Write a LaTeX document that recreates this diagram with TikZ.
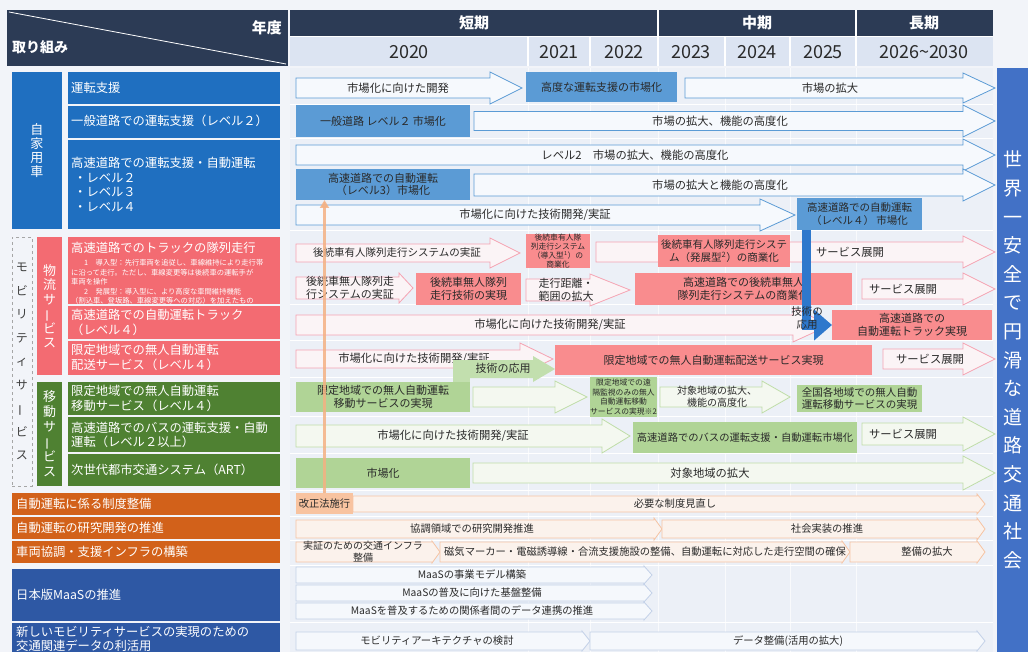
\documentclass[tikz,border=0pt]{standalone}
\usepackage{fontspec}
\usepackage{graphicx}
\setmainfont{Noto Sans CJK JP}
\usetikzlibrary{arrows.meta}
\definecolor{navy}{HTML}{2C3B55}
\definecolor{yearbg}{HTML}{DCE4F2}
\definecolor{cblue}{HTML}{1F6FC0}
\definecolor{mblue}{HTML}{5B9BD5}
\definecolor{lblue}{HTML}{F6F9FD}
\definecolor{cpink}{HTML}{F36B72}
\definecolor{mpink}{HTML}{F98C8E}
\definecolor{bpink}{HTML}{F5A3B2}
\definecolor{lpink}{HTML}{FBF4F6}
\definecolor{cgreen}{HTML}{4F8132}
\definecolor{mgreen}{HTML}{B0D496}
\definecolor{ggreen}{HTML}{C2DFAE}
\definecolor{bgreen}{HTML}{BFDDA8}
\definecolor{lgreen}{HTML}{F4F8F0}
\definecolor{corange}{HTML}{D2611A}
\definecolor{lorange}{HTML}{F8C3A0}
\definecolor{borange}{HTML}{F6C4A4}
\definecolor{lorange2}{HTML}{FBF2EC}
\definecolor{orline}{HTML}{F4B183}
\definecolor{cmaas}{HTML}{2E58A4}
\definecolor{bmaas}{HTML}{C3D1E8}
\definecolor{lmaas}{HTML}{F5F8FC}
\definecolor{rbar}{HTML}{4271C6}
\definecolor{canvas}{HTML}{F2F4F9}
\definecolor{content}{HTML}{ECF0F7}
\definecolor{txt}{HTML}{2A2A2A}
\definecolor{thick}{HTML}{2E78CC}
\newcommand\fsz[2]{\fontsize{#1}{#2}\selectfont}
\newcommand\vbar{\rotatebox[origin=c]{90}{ー}}
\newcommand\barr[7]{\path[#1] (#2,{#4-#5}) -- ({#3-#7},{#4-#5}) -- ({#3-#7},{#4-#6}) -- (#3,#4) -- ({#3-#7},{#4+#6}) -- ({#3-#7},{#4+#5}) -- (#2,{#4+#5}) -- cycle;}
\begin{document}
\begin{tikzpicture}[x=1pt,y=-1pt,
  ctext/.style={font=\fsz{11.3}{13.5}, text=txt, inner sep=0pt, align=center},
  mtext/.style={font=\fsz{10.3}{12.5}, text=txt, inner sep=0pt, align=center},
  ltext/.style={font=\fsz{12.3}{14.5}, text=white, inner sep=0pt, anchor=west},
  nstext/.style={font=\fsz{7.3}{9}, text=white, inner sep=0pt, anchor=west},
  vtext/.style={font=\fsz{13}{13.8}, text=white, inner sep=0pt, align=center},
  hdr/.style={font=\bfseries\fsz{15}{17}, text=white, inner sep=0pt},
  yr/.style={font=\fsz{18}{20}, text=txt, inner sep=0pt},
  filledbox/.style={draw=none, inner sep=0pt, outer sep=0pt, align=center, text=txt, font=\fsz{11}{13}},
  barw/.style={draw=mblue, fill=lblue, line width=0.8pt},
  parw/.style={draw=bpink, fill=lpink, line width=0.8pt},
  garw/.style={draw=bgreen, fill=lgreen, line width=0.8pt},
  oarw/.style={draw=borange, fill=lorange2, line width=0.8pt},
  marw/.style={draw=bmaas, fill=lmaas, line width=0.8pt},
  sepline/.style={draw=white, line width=1pt}]
\useasboundingbox (0,0) rectangle (1028,652);
\fill[canvas] (0,0) rectangle (1028,652);
% ---------- header ----------
\fill[navy] (7,10) rectangle (288,66);
\draw[white, line width=0.8pt] (9,12) -- (286,64);
\node[hdr, anchor=east] (nendo) at (282,28) {年度};
\node[hdr, anchor=west, font=\bfseries\fsz{14}{16}] (torikumi) at (12,47) {取り組み};
\fill[navy] (290,10) rectangle (993,37);
\fill[yearbg] (290,37) rectangle (993,66);
\foreach \xx in {658,856} \draw[white, line width=1.2pt] (\xx,10) -- (\xx,37);
\foreach \xx in {528,590,658,725,790,856} \draw[white, line width=1.2pt] (\xx,37) -- (\xx,66);
\draw[white, line width=1pt] (290,37) -- (993,37);
\node[hdr] (tanki) at (474,23) {短期};
\node[hdr] (chuki) at (757,23) {中期};
\node[hdr] (choki) at (924,23) {長期};
\node[yr] (y20) at (409,52) {2020};
\node[yr] (y21) at (559,52) {2021};
\node[yr] (y22) at (624,52) {2022};
\node[yr] (y23) at (691,52) {2023};
\node[yr] (y24) at (757,52) {2024};
\node[yr] (y25) at (823,52) {2025};
\node[yr] (y26) at (924,52) {2026\textasciitilde 2030};
% ---------- content background ----------
\fill[content] (290,68) rectangle (993,652);
\foreach \yy in {104.5,138.5,231,305,340,377,416,453.5,490,516,540,565,622}
  \draw[sepline] (290,\yy) -- (993,\yy);
\foreach \xx in {528,590,658,725,790,856}
  \draw[white, line width=0.6pt, opacity=0.7] (\xx,68) -- (\xx,652);
% ---------- right bar ----------
\fill[rbar] (997,68) rectangle (1028,652);
\node[font=\fsz{19}{28.6}, text=white, align=center, inner sep=0pt] (goal) at (1013,360)
  {世\\界\\一\\安\\全\\で\\円\\滑\\な\\道\\路\\交\\通\\社\\会};
% ---------- left column ----------
\node[fill=cblue, minimum width=50pt, minimum height=157pt, inner sep=0pt, vtext] (jika) at (37,150.5) {自\\家\\用\\車};
\fill[cblue] (68,72) rectangle (280,104);
\fill[cblue] (68,106) rectangle (280,138);
\fill[cblue] (68,140) rectangle (280,229);
\node[ltext] (l1) at (71,88) {運転支援};
\node[ltext] (l2) at (71,121) {一般道路での運転支援（レベル２）};
\node[ltext] (l3a) at (71,163) {高速道路での運転支援・自動運転};
\node[ltext] (l3b) at (74,178) {・レベル２};
\node[ltext] (l3c) at (74,192.5) {・レベル３};
\node[ltext] (l3d) at (74,207) {・レベル４};
% mobility
\node[draw=gray!70, dashed, fill=canvas, minimum width=20pt, minimum height=249pt, inner sep=0pt,
  font=\fsz{12}{23.5}, text=black!75, align=center] (mob) at (22,361.5)
  {モ\\ビ\\リ\\テ\\ィ\\サ\\\vbar\\ビ\\ス};
\node[fill=cpink, minimum width=25pt, minimum height=138pt, inner sep=0pt, vtext, font=\fsz{13}{14.5}] (butsu) at (49.5,306) {物\\流\\サ\\\vbar\\ビ\\ス};
\fill[cpink] (68,237) rectangle (280,304);
\fill[cpink] (68,306) rectangle (280,339);
\fill[cpink] (68,341) rectangle (280,375);
\node[ltext] (l4) at (71,248) {高速道路でのトラックの隊列走行};
\node[nstext] (n1) at (84,263) {1\quad 導入型：先行車両を追従し、車線維持により走行帯};
\node[nstext] (n2) at (71,273) {に沿って走行。ただし、車線変更等は後続車の運転手が};
\node[nstext] (n3) at (71,282) {車両を操作};
\node[nstext] (n4) at (84,292) {2\quad 発展型：導入型に、より高度な車間維持機能};
\node[nstext] (n5) at (71,301) {（割込車、登坂路、車線変更等への対応）を加えたもの};
\node[ltext] (l5a) at (71,315) {高速道路での自動運転トラック};
\node[ltext] (l5b) at (71,330) {（レベル４）};
\node[ltext] (l6a) at (71,350) {限定地域での無人自動運転};
\node[ltext] (l6b) at (71,365) {配送サービス（レベル４）};
\node[fill=cgreen, minimum width=25pt, minimum height=104pt, inner sep=0pt, vtext, font=\fsz{13}{15}] (ido) at (49.5,434) {移\\動\\サ\\\vbar\\ビ\\ス};
\fill[cgreen] (68,382) rectangle (280,415);
\fill[cgreen] (68,417) rectangle (280,452);
\fill[cgreen] (68,454) rectangle (280,486);
\node[ltext] (l7a) at (71,391) {限定地域での無人自動運転};
\node[ltext] (l7b) at (71,406) {移動サービス（レベル４）};
\node[ltext] (l8a) at (71,428) {高速道路でのバスの運転支援・自動};
\node[ltext] (l8b) at (71,442) {運転（レベル２以上）};
\node[ltext] (l9) at (71,470) {次世代都市交通システム（ART）};
% other rows
\fill[corange] (12,493) rectangle (280,515);
\fill[corange] (12,517) rectangle (280,539);
\fill[corange] (12,541) rectangle (280,563);
\fill[cmaas] (12,569) rectangle (280,621);
\fill[cmaas] (12,623) rectangle (280,652);
\node[ltext] (l10) at (16,504) {自動運転に係る制度整備};
\node[ltext] (l11) at (16,528) {自動運転の研究開発の推進};
\node[ltext] (l12) at (16,552) {車両協調・支援インフラの構築};
\node[ltext] (l13) at (16,595) {日本版MaaSの推進};
\node[ltext] (l14a) at (16,632) {新しいモビリティサービスの実現のための};
\node[ltext] (l14b) at (16,646) {交通関連データの利活用};
% ---------- 自家用車 rows ----------
\barr{barw}{296}{522}{88}{10}{16}{32}
\node[ctext] (ta1) at (398,88) {市場化に向けた開発};
\node[filledbox, fill=mblue, minimum width=151pt, minimum height=30pt] (b1) at (601.5,87) {高度な運転支援の市場化};
\barr{barw}{685}{995}{88}{10}{15}{32}
\node[ctext] (ta2) at (830,88) {市場の拡大};
\node[filledbox, fill=mblue, minimum width=174pt, minimum height=32pt] (b2) at (383,121) {一般道路 レベル２ 市場化};
\barr{barw}{474}{995}{121}{9.5}{16}{32}
\node[ctext] (ta3) at (720,121) {市場の拡大、機能の高度化};
\barr{barw}{296}{995}{155}{10}{16}{32}
\node[ctext] (ta4) at (635,155) {レベル2\quad 市場の拡大、機能の高度化};
\node[filledbox, fill=mblue, minimum width=174pt, minimum height=31pt, font=\fsz{11}{12.5}] (b3) at (383,184.5) {高速道路での自動運転\\（レベル3）市場化};
\barr{barw}{474}{995}{185}{11}{16}{32}
\node[ctext] (ta5) at (720,185) {市場の拡大と機能の高度化};
\barr{barw}{296}{795}{215}{10}{16}{35}
\node[ctext] (ta6) at (535,215) {市場化に向けた技術開発/実証};
\node[filledbox, fill=mblue, minimum width=125pt, minimum height=32pt, font=\fsz{10.5}{13}] (b4) at (859.5,214) {高速道路での自動運転\\（レベル４） 市場化};
% ---------- 物流 rows ----------
\barr{parw}{296}{520}{253}{9}{15}{30}
\node[ctext, font=\fsz{10.5}{12}] (tp1) at (397,253) {後続車有人隊列走行システムの実証};
\node[filledbox, fill=mpink, minimum width=64pt, minimum height=34pt, font=\fsz{7.8}{8.7}] (pb1) at (558,251) {後続車有人隊\\列走行システム\\（導入型\textsuperscript{1}）の\\商業化};
\barr{parw}{596}{995}{252}{10}{16}{32}
\node[filledbox, fill=mpink, minimum width=132pt, minimum height=32pt, font=\fsz{10.5}{12.5}] (pb2) at (724,251) {後続車有人隊列走行システ\\ム（発展型\textsuperscript{2}）の商業化};
\node[ctext] (tp2) at (850,252) {サービス展開};
\barr{parw}{296}{413}{288}{11}{15}{14}
\node[ctext, font=\fsz{11}{12.5}] (tp3) at (350,288) {後続車無人隊列走\\行システムの実証};
\node[filledbox, fill=mpink, minimum width=105pt, minimum height=32pt, font=\fsz{11}{12.5}] (pb3) at (468.5,289) {後続車無人隊列\\走行技術の実現};
\barr{parw}{526}{630}{290}{11}{16}{40}
\node[ctext, font=\fsz{11}{12.5}] (tp4) at (566,290) {走行距離・\\範囲の拡大};
\node[filledbox, fill=mpink, minimum width=217pt, minimum height=32pt, font=\fsz{11}{12.5}] (pb4) at (743.5,289) {高速道路での後続車無人\\隊列走行システムの商業化};
\barr{parw}{862}{995}{289}{10}{16}{32}
\node[ctext] (tp5) at (903,289) {サービス展開};
\barr{parw}{296}{830}{325}{10}{17}{37}
\node[ctext] (tp6) at (550,325) {市場化に向けた技術開発/実証};
\node[filledbox, fill=mpink, minimum width=160pt, minimum height=30pt, font=\fsz{11}{12.5}] (pb5) at (912,325) {高速道路での\\自動運転トラック実現};
\barr{parw}{296}{553}{359}{9}{16}{33}
\node[ctext] (tp7) at (414,359) {市場化に向けた技術開発/実証};
\node[filledbox, fill=mpink, minimum width=317pt, minimum height=30pt] (pb6) at (713.5,360) {限定地域での無人自動運転配送サービス実現};
\barr{parw}{883}{995}{359}{10}{16}{32}
\node[ctext] (tp8) at (930,359) {サービス展開};
% ---------- 移動 rows ----------
\fill[ggreen] (453,365) rectangle (470,382);
\barr{draw=none, fill=ggreen}{453}{555}{369}{9}{13}{22}
\node[ctext, font=\fsz{11}{12}] (tg0) at (503,368) {技術の応用};
\node[filledbox, fill=mgreen, minimum width=174pt, minimum height=30pt, font=\fsz{11}{12.5}] (gb1) at (383,397) {限定地域での無人自動運転\\移動サービスの実現};
\barr{garw}{473}{587}{397}{10}{16}{32}
\node[filledbox, fill=mgreen, minimum width=67pt, minimum height=40pt, font=\fsz{7.8}{9.4}] (gb2) at (623.5,397) {限定地域での遠\\隔監視のみの無人\\自動運転移動\\サービスの実現※2};
\barr{garw}{660}{790}{397}{10}{16}{28}
\node[ctext, font=\fsz{10}{12}] (tg2) at (717,397) {対象地域の拡大、\\機能の高度化};
\node[filledbox, fill=mgreen, minimum width=125pt, minimum height=27pt, font=\fsz{10.5}{12}] (gb3) at (859.5,398.5) {全国各地域での無人自動\\運転移動サービスの実現};
\barr{garw}{296}{630}{436}{11}{17}{28}
\node[ctext] (tg3) at (453,436) {市場化に向けた技術開発/実証};
\node[filledbox, fill=mgreen, minimum width=224pt, minimum height=31pt, font=\fsz{10.3}{12}] (gb4) at (745,437.5) {高速道路でのバスの運転支援・自動運転市場化};
\barr{garw}{862}{995}{434}{11}{17}{32}
\node[ctext] (tg4) at (903,434) {サービス展開};
\node[filledbox, fill=mgreen, minimum width=174pt, minimum height=30pt] (gb5) at (383,473) {市場化};
\barr{garw}{473}{995}{473}{10}{17}{32}
\node[ctext] (tg5) at (710,473) {対象地域の拡大};
% ---------- 制度・研究・インフラ ----------
\node[filledbox, fill=lorange, minimum width=57pt, minimum height=21pt, font=\fsz{10.3}{12}] (ob1) at (324.5,503.5) {改正法施行};
\barr{oarw}{353}{985}{504}{8}{10}{8}
\node[mtext] (to1) at (675,504) {必要な制度見直し};
\barr{oarw}{296}{662}{529}{9}{11}{8}
\node[mtext] (to2) at (472,529) {協調領域での研究開発推進};
\barr{oarw}{662}{985}{529}{9}{11}{8}
\node[mtext] (to3) at (827,529) {社会実装の推進};
\barr{oarw}{296}{440}{552}{10}{11}{8}
\node[mtext, font=\fsz{10}{12}] (to4) at (363,552) {実証のための交通インフラ\\整備};
\barr{oarw}{440}{850}{552}{10}{11}{8}
\node[mtext] (to5) at (645,552) {磁気マーカー・電磁誘導線・合流支援施設の整備、自動運転に対応した走行空間の確保};
\barr{oarw}{850}{985}{552}{10}{11}{8}
\node[mtext] (to6) at (927,552) {整備の拡大};
% ---------- MaaS / data ----------
\barr{marw}{296}{652}{575}{8}{9}{8}
\node[mtext] (tm1) at (472,575) {MaaSの事業モデル構築};
\barr{marw}{296}{652}{593}{8}{9}{8}
\node[mtext] (tm2) at (472,593) {MaaSの普及に向けた基盤整備};
\barr{marw}{296}{652}{611}{8}{9}{8}
\node[mtext] (tm3) at (472,611) {MaaSを普及するための関係者間のデータ連携の推進};
\barr{marw}{296}{590}{641}{9}{10}{8}
\node[mtext] (td1) at (437,641) {モビリティアーキテクチャの検討};
\barr{marw}{590}{985}{641}{9}{10}{8}
\node[mtext] (td2) at (788,641) {データ整備(活用の拡大)};
% ---------- connectors ----------
\draw[orline, line width=3pt, opacity=0.85, -{Triangle[length=8pt,width=9pt]}] (ob1.north) -- (ob1.north |- b3.south);
\draw[thick, draw=thick, line width=9pt, -{Triangle[length=18pt,width=30pt]}] ([xshift=9pt]b4.south west) |- (pb5.west);
\node[ctext, font=\fsz{10.5}{12.5}] (tk) at (807,318) {技術の\\応用};
\end{tikzpicture}
\end{document}
